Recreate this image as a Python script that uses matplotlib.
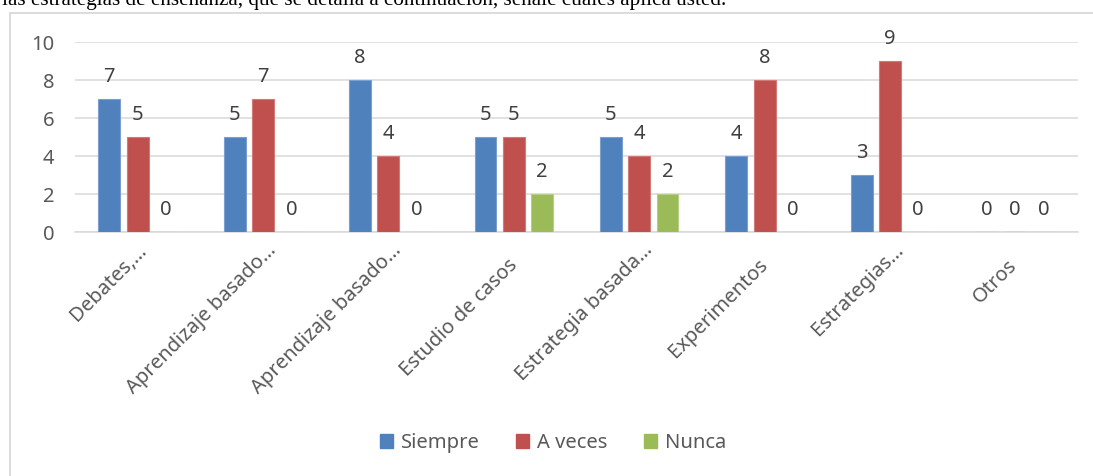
import matplotlib
matplotlib.use("Agg")
import matplotlib.pyplot as plt
from matplotlib.patches import Rectangle, Patch
from matplotlib.transforms import offset_copy
import numpy as np

# ---------------- data ----------------
categories = ["Debates,…", "Aprendizaje basado…", "Aprendizaje basado…",
              "Estudio de casos", "Estrategia basada…", "Experimentos",
              "Estrategias…", "Otros"]
series_names = ["Siempre", "A veces", "Nunca"]
siempre = [7, 5, 8, 5, 5, 4, 3, 0]
a_veces = [5, 7, 4, 5, 4, 8, 9, 0]
nunca = [0, 0, 0, 2, 2, 0, 0, 0]
y_ticks = [0, 2, 4, 6, 8, 10]
caption = "las estrategias de enseñanza, que se detalla a continuación, señale cuáles aplica usted."

# ---------------- style / layout ----------------
colors = ["#4f81bd", "#c0504d", "#9bbb59"]
edges = ["#7a9fd0", "#d27a78", "#b5cf86"]
FONT = ["Noto Sans", "DejaVu Sans"]
FS = 14.5
W, H = 1093, 476
# pixel anchor (baseline-right end) of rotated category labels, relative to tick / axis bottom
label_anchor_px = [(10, -19), (14, -19), (14, -19), (4, -34), (14, -19), (4, -34), (14, -19), (2, -34)]

plt.rcParams["font.family"] = FONT

fig = plt.figure(figsize=(W / 100, H / 100), dpi=100)
ax = fig.add_axes([75 / W, 1 - 232 / H, (1078 - 75) / W, (232 - 42) / H])

x = np.arange(len(categories))
bw = 0.175
offs = [-0.226, 0.0, 0.226]
for vals, off, c, ec in zip([siempre, a_veces, nunca], offs, colors, edges):
    ax.bar(x + off, vals, width=bw, color=c, edgecolor=ec, linewidth=0.8, zorder=3)
    for xi, v in zip(x + off, vals):
        ax.annotate(str(v), (xi, v), xytext=(0, 12.2), textcoords="offset points",
                    ha="center", va="baseline", fontsize=FS, color="#404040")

ax.set_xlim(-0.5, len(categories) - 0.5)
ax.set_ylim(0, 10)
ax.set_yticks(y_ticks)
ax.set_yticklabels([str(t) for t in y_ticks], fontsize=FS, color="#595959")
ax.tick_params(axis="y", length=0, pad=15)
ax.set_xticks([])
ax.grid(axis="y", color="#d9d9d9", linewidth=1.1, zorder=0)
for s in ["top", "right", "left"]:
    ax.spines[s].set_visible(False)
ax.spines["bottom"].set_color("#d9d9d9")
ax.spines["bottom"].set_linewidth(1.1)
ax.spines["bottom"].set_zorder(2)

# rotated category labels
for xi, lab, (dx, dy) in zip(x, categories, label_anchor_px):
    tr = offset_copy(ax.get_xaxis_transform(), fig=fig, x=dx, y=dy, units="dots")
    ax.text(xi, 0, lab, transform=tr, rotation=45, rotation_mode="anchor",
            ha="right", va="baseline", fontsize=FS, color="#595959")

# legend
handles = [Patch(facecolor=c, edgecolor=c) for c in colors]
fig.legend(handles, series_names, loc="center", bbox_to_anchor=(553 / W, 1 - 443 / H),
           ncol=3, frameon=False, fontsize=FS, labelcolor="#595959",
           handlelength=0.65, handleheight=0.65, handletextpad=0.4, columnspacing=1.8)

# chart frame (cut off at right and bottom)
fig.patches.append(Rectangle((10 / W, -0.2), 1.2, 1.2 - 13 / H,
                             transform=fig.transFigure, fill=False, edgecolor="#d9d9d9",
                             linewidth=1.3))
# caption cut off at the top
fig.text(2 / W, 1 - 5 / H, caption, family=["Liberation Serif", "DejaVu Serif"],
         fontsize=15.2, va="baseline", ha="left", color="black")

fig.savefig("out.png", dpi=100)
